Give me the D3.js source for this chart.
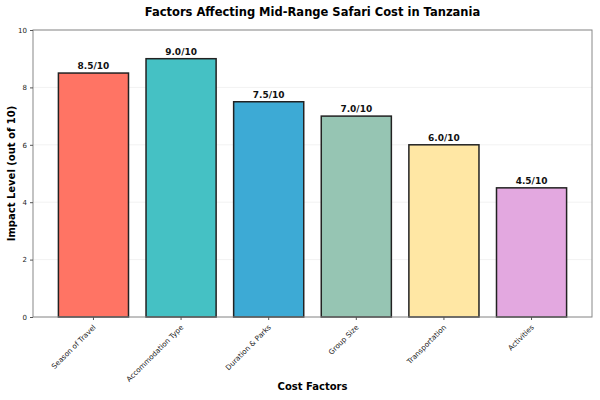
<!DOCTYPE html>
<html>
<head>
<meta charset="utf-8">
<script src="https://cdn.jsdelivr.net/npm/d3@7"></script>
<style>
  body { margin: 0; background: #fff; }
  text { font-family: "DejaVu Sans", sans-serif; }
</style>
</head>
<body>
<div id="chart"></div>
<script>
const factors = ["Season of Travel", "Accommodation Type", "Duration & Parks", "Group Size", "Transportation", "Activities"];
const impact = [8.5, 9.0, 7.5, 7.0, 6.0, 4.5];
const colors = ["#FF7464", "#45C1C4", "#3DAAD5", "#96C5B3", "#FFE7A4", "#E3A8E0"];
const yTicks = [0, 2, 4, 6, 8, 10];

const width = 600, height = 400;
const margin = { top: 30, right: 8, bottom: 83, left: 33 };

const svg = d3.select("#chart")
    .append("svg")
    .attr("width", width)
    .attr("height", height);

const x = d3.scaleBand()
    .domain(factors)
    .range([margin.left, width - margin.right])
    .paddingInner(0.2)
    .paddingOuter(0.29);

const y = d3.scaleLinear()
    .domain([0, 10])
    .range([height - margin.bottom, margin.top]);

// faint grid
svg.append("g")
    .selectAll("line")
    .data(yTicks)
    .join("line")
    .attr("x1", margin.left)
    .attr("x2", width - margin.right)
    .attr("y1", d => y(d))
    .attr("y2", d => y(d))
    .attr("stroke", "#f2f2f2")
    .attr("stroke-width", 1);

svg.append("g")
    .selectAll("rect")
    .data(impact)
    .join("rect")
    .attr("x", (d, i) => x(factors[i]))
    .attr("y", d => y(d))
    .attr("width", x.bandwidth())
    .attr("height", d => y(0) - y(d))
    .attr("fill", (d, i) => colors[i])
    .attr("stroke", "#222")
    .attr("stroke-width", 1.5);

svg.append("g")
    .selectAll("text")
    .data(impact)
    .join("text")
    .attr("x", (d, i) => x(factors[i]) + x.bandwidth() / 2)
    .attr("y", d => y(d) - 4)
    .attr("text-anchor", "middle")
    .attr("font-size", "9px")
    .attr("font-weight", "bold")
    .attr("fill", "#111")
    .text(d => d.toFixed(1) + "/10");

// frame
svg.append("rect")
    .attr("x", margin.left)
    .attr("y", margin.top)
    .attr("width", width - margin.left - margin.right)
    .attr("height", height - margin.top - margin.bottom)
    .attr("fill", "none")
    .attr("stroke", "#888")
    .attr("stroke-width", 1);

const xAxis = svg.append("g")
    .attr("transform", `translate(0, ${height - margin.bottom})`)
    .call(d3.axisBottom(x).tickSize(3).tickSizeOuter(0));
xAxis.select(".domain").remove();
xAxis.selectAll("line").attr("stroke", "#555");
xAxis.selectAll("text")
    .attr("font-size", "7.2px")
    .attr("fill", "#222")
    .attr("text-anchor", "end")
    .attr("dy", "0.3em")
    .attr("transform", "translate(-3, 5) rotate(-45)");

const yAxis = svg.append("g")
    .attr("transform", `translate(${margin.left}, 0)`)
    .call(d3.axisLeft(y).tickValues(yTicks).tickSize(3).tickSizeOuter(0));
yAxis.select(".domain").remove();
yAxis.selectAll("line").attr("stroke", "#555");
yAxis.selectAll("text").attr("font-size", "7px").attr("fill", "#222");

svg.append("text")
    .attr("x", (margin.left + width - margin.right) / 2)
    .attr("y", 16)
    .attr("text-anchor", "middle")
    .attr("font-size", "11.5px")
    .attr("font-weight", "bold")
    .text("Factors Affecting Mid-Range Safari Cost in Tanzania");

svg.append("text")
    .attr("x", (margin.left + width - margin.right) / 2)
    .attr("y", 390)
    .attr("text-anchor", "middle")
    .attr("font-size", "10px")
    .attr("font-weight", "bold")
    .text("Cost Factors");

svg.append("text")
    .attr("transform", `translate(15, ${(margin.top + height - margin.bottom) / 2}) rotate(-90)`)
    .attr("text-anchor", "middle")
    .attr("font-size", "10px")
    .attr("font-weight", "bold")
    .text("Impact Level (out of 10)");
</script>
</body>
</html>
